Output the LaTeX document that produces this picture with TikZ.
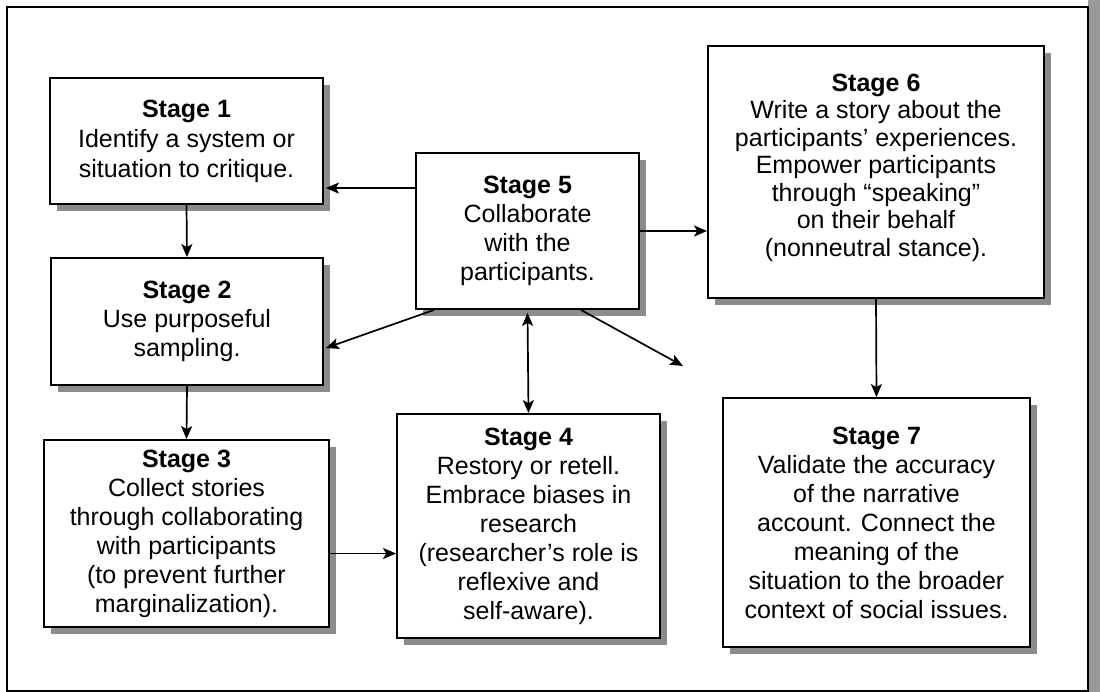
\documentclass[tikz,border=0pt]{standalone}
\usepackage{fontspec}
\setmainfont{Liberation Sans}
\usetikzlibrary{arrows.meta,shadows}

\begin{document}
\begin{tikzpicture}[x=1pt,y=-1pt,
  stagebox/.style={draw=black, line width=1.8pt, fill=white, inner sep=0pt,
    align=center, font=\fontsize{25}{29}\selectfont,
    drop shadow={shadow xshift=7pt, shadow yshift=-7pt, fill=black!45, opacity=1}},
  tip/.tip={Stealth[length=13pt,width=11pt,inset=3pt]},
  arr/.style={line width=1.7pt, -tip},
  arrboth/.style={line width=1.7pt, tip-tip},
  frame/.style={draw=black, line width=1.5pt},
  edgestrip/.style={fill=black!40, draw=none}]

\useasboundingbox (0,0) rectangle (1100,692);

% page edge and outer frame
\fill[edgestrip] (1088,0) rectangle (1100,692);
\draw[frame] (7,7) rectangle (1088,691);

% stages
\node[stagebox, font=\fontsize{25}{30}\selectfont, minimum width=273pt, minimum height=126pt] (s1) at (186.5,141)
  {\textbf{Stage 1}\\Identify a system or\\situation to critique.};
\node[stagebox, minimum width=272pt, minimum height=127pt] (s2) at (187,321.5)
  {\textbf{Stage 2}\\Use purposeful\\sampling.};
\node[stagebox, minimum width=285pt, minimum height=187pt] (s3) at (186.5,533.5)
  {\textbf{Stage 3}\\Collect stories\\through collaborating\\with participants\\(to prevent further\\marginalization).};
\node[stagebox, minimum width=263pt, minimum height=224pt] (s4) at (528.5,526)
  {\textbf{Stage 4}\\Restory or retell.\\Embrace biases in\\research\\(researcher’s role is\\reflexive and\\self-aware).};
\node[stagebox, minimum width=223pt, minimum height=156pt] (s5) at (527.5,231)
  {\textbf{Stage 5}\\Collaborate\\with the\\participants.};
\node[stagebox, font=\fontsize{25}{27.5}\selectfont, minimum width=336pt, minimum height=252pt] (s6) at (876,172)
  {\textbf{Stage 6}\\Write a story about the\\participants’ experiences.\\Empower participants\\through “speaking”\\on their behalf\\(nonneutral stance).\rule[-14pt]{0pt}{14pt}};
\node[stagebox, minimum width=307pt, minimum height=249pt] (s7) at (876.5,522.5)
  {\textbf{Stage 7}\\Validate the accuracy\\of the narrative\\account. Connect the\\meaning of the\\situation to the broader\\context of social issues.};

\coordinate (open) at (683,366);

% connectors
\draw[arr] (s1.south) -- (s2.north);
\draw[arr] (s2.south) -- (s3.north);
\draw[arr] ([yshift=-20pt]s3.east) -- ([yshift=-20pt]s3.east -| s4.west);
\draw[arr] ([yshift=-36pt]s5.north west) -- ([yshift=-36pt,xshift=2pt]s5.north west -| s1.east);
\draw[arr] (s5.east) -- (s5.east -| s6.west);
\draw[arrboth] ([yshift=-3pt]s5.south) -- (s4.north);
\draw[arr] ([xshift=19pt]s5.south west) -- ([yshift=-26.5pt,xshift=2pt]s2.east);
\draw[arr] ([xshift=-59pt]s5.south east) -- (open);
\draw[arr] (s6.south) -- (s7.north);

\end{tikzpicture}
\end{document}
